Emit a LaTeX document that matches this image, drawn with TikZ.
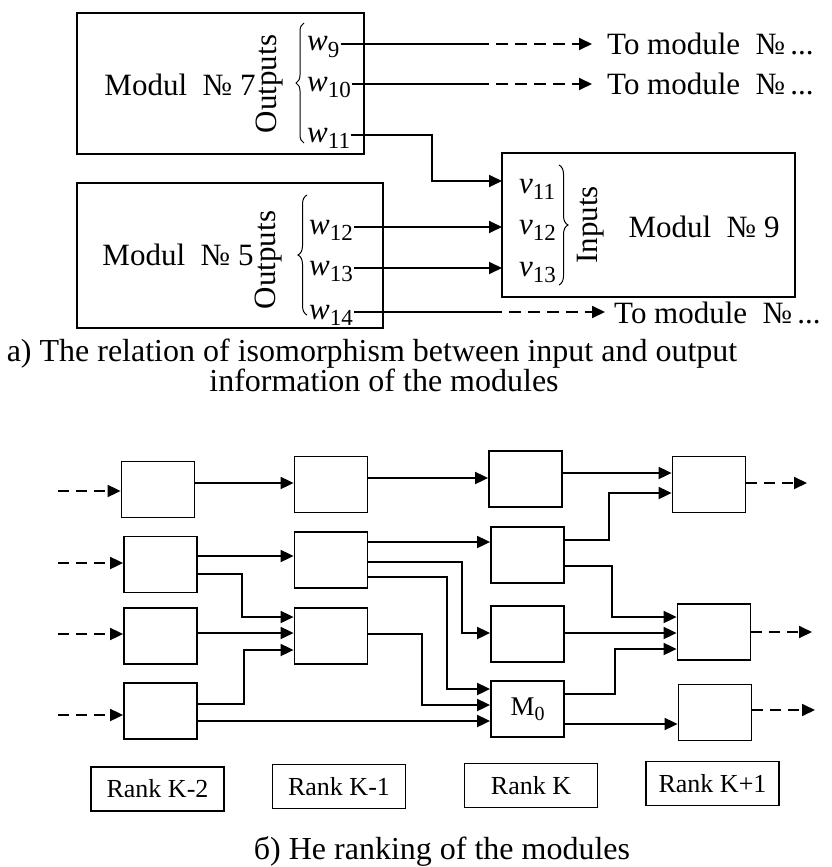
\documentclass[tikz,border=0pt]{standalone}
\usepackage{fontspec}
\setmainfont{Liberation Serif}
\usetikzlibrary{arrows.meta,decorations.pathreplacing}
\newcommand\fbig{\fontsize{31}{36}\selectfont}
\newcommand\fcap{\fontsize{32}{36}\selectfont}
\newcommand\frank{\fontsize{26}{30}\selectfont}
\newcommand\wl[2]{\textit{#1}\raisebox{-0.2em}{\fontsize{23}{23}\selectfont #2}}
\begin{document}
\begin{tikzpicture}[x=1pt,y=-1pt]
\tikzset{
 every node/.style={inner sep=0pt},
 lw/.style={line width=1.8pt},
 mbox/.style={draw, lw, inner sep=0pt},
 bbox/.style={draw, lw, inner sep=0pt, minimum width=73pt, minimum height=56pt},
 rbox/.style={draw, line width=1.5pt, minimum width=133pt, minimum height=44pt, font=\frank},
 txt/.style={font=\fbig, inner sep=0pt},
 wlab/.style={font=\fbig, inner sep=1pt, text height=14pt, text depth=0pt, anchor=west},
 conn/.style={lw, -{Triangle[length=13pt,width=12pt]}},
 plain/.style={lw},
 dconn/.style={conn, dash pattern=on 12pt off 7pt},
 brc/.style={decorate, decoration={brace, amplitude=#1}, line width=1pt},
}
\useasboundingbox (0,0) rectangle (831,867);

% ---------- part a ----------
\node[mbox, minimum width=287pt, minimum height=141pt] (m7) at (220.5,83.5) {};
\node[mbox, minimum width=306pt, minimum height=145pt] (m5) at (230,255.5) {};
\node[mbox, minimum width=293pt, minimum height=144pt] (m9) at (648.5,225) {};

\node[txt, anchor=base] (l7) at (180,95) {Modul\ \ № 7};
\node[txt, anchor=base] (l5) at (178,265) {Modul\ \ № 5};
\node[txt, anchor=base] (l9) at (704,237) {Modul\ \ № 9};

\node[txt, rotate=90] (out7) at (270,84) {Outputs};
\node[txt, rotate=90] (out5) at (269,260) {Outputs};
\node[txt, rotate=90] (in9) at (591,225) {Inputs};

\draw[brc=8pt] (304,143) -- (304,23);
\draw[brc=9pt] (307,315) -- (307,195);
\draw[brc=9pt] (559,165) -- (559,285);

\node[wlab] (w9) at (306,44) {\wl{w}{9}};
\node[wlab] (w10) at (306,84) {\wl{w}{10}};
\node[wlab] (w11) at (306,135) {\wl{w}{11}};
\node[wlab] (w12) at (308,227) {\wl{w}{12}};
\node[wlab] (w13) at (308,268) {\wl{w}{13}};
\node[wlab] (w14) at (308,312) {\wl{w}{14}};

\node[wlab] (v11) at (518,186) {\wl{v}{11}};
\node[wlab] (v12) at (518,227) {\wl{v}{12}};
\node[wlab] (v13) at (518,269) {\wl{v}{13}};

\node[txt, anchor=west] (to1) at (607,44) {To module\ \ №\,...};
\node[txt, anchor=west] (to2) at (607,84) {To module\ \ №\,...};
\node[txt, anchor=west] (to3) at (614,313) {To module\ \ №\,...};

\coordinate (s9) at (477,44);   \coordinate (e9) at (592,44);
\coordinate (s10) at (477,84);  \coordinate (e10) at (592,84);
\coordinate (s14) at (490,312); \coordinate (e14) at (605,312);
\coordinate (k11) at (432,135);
\coordinate (in1) at (502,181);
\coordinate (in2) at (502,227);
\coordinate (in3) at (502,268);

\draw[plain] (w9.east) -- (s9);  \draw[dconn] (s9) -- (e9);
\draw[plain] (w10.east) -- (s10); \draw[dconn] (s10) -- (e10);
\draw[conn] (w11.east) -- (k11) |- (in1);
\draw[conn] (w12.east) -- (in2);
\draw[conn] (w13.east) -- (in3);
\draw[plain] (w14.east) -- (s14); \draw[dconn] (s14) -- (e14);

\node[txt, anchor=base, font=\fcap] (capa1) at (372,361) {a) The relation of isomorphism between input and output};
\node[txt, anchor=base, font=\fcap] (capa2) at (384,391) {information of the modules};

% ---------- part b ----------
\node[bbox] (a1) at (158,489.5) {};
\node[bbox] (a2) at (160.5,564.5) {};
\node[bbox] (a3) at (160.5,636) {};
\node[bbox] (a4) at (160.5,711) {};
\node[bbox] (b1) at (331,484.5) {};
\node[bbox] (b2) at (331,560) {};
\node[bbox] (b3) at (331,636) {};
\node[bbox] (c1) at (525.5,479) {};
\node[bbox] (c2) at (527.5,555) {};
\node[bbox] (c3) at (527.5,634) {};
\node[bbox] (c4) at (527.5,709) {\fontsize{27}{30}\selectfont M\raisebox{-0.2em}{\fontsize{20}{20}\selectfont 0}};
\node[bbox] (d1) at (709,484.5) {};
\node[bbox] (d2) at (714,632) {};
\node[bbox] (d3) at (715,712.5) {};

% inputs
\coordinate (i1) at (58,491);
\coordinate (i2) at (58,563);
\coordinate (i3) at (58,634);
\coordinate (i4) at (58,715);
\draw[dconn, dash pattern=on 11pt off 7pt] (i1) -- (i1 -| a1.west);
\draw[dconn, dash pattern=on 11pt off 7pt] (i2) -- (i2 -| a2.west);
\draw[dconn, dash pattern=on 11pt off 7pt] (i3) -- (i3 -| a3.west);
\draw[dconn, dash pattern=on 11pt off 7pt] (i4) -- (i4 -| a4.west);

% rank k-2 -> k-1
\draw[conn] (a1.east |- 0,483) -- (b1.west |- 0,483);
\draw[conn] (a2.east |- 0,556) -- (b2.west |- 0,556);
\draw[conn] (a2.east |- 0,574) -| (242,617) -- (b3.west |- 0,617);
\draw[conn] (a3.east |- 0,633) -- (b3.west |- 0,633);
\draw[conn] (a4.east |- 0,704) -| (244,650) -- (b3.west |- 0,650);
\draw[conn] (a4.east |- 0,721) -- (c4.west |- 0,721);

% rank k-1 -> k
\draw[conn] (b1.east |- 0,478) -- (c1.west |- 0,478);
\draw[conn] (b2.east |- 0,542) -- (c2.west |- 0,542);
\draw[conn] (b2.east |- 0,562) -| (462,633) -- (c3.west |- 0,633);
\draw[conn] (b2.east |- 0,577) -| (447,689) -- (c4.west |- 0,689);
\draw[conn] (b3.east |- 0,634) -| (422,705) -- (c4.west |- 0,705);

% rank k -> k+1
\draw[conn] (c1.east |- 0,473) -- (d1.west |- 0,473);
\draw[conn] (c2.east |- 0,540) -| (609,493) -- (d1.west |- 0,493);
\draw[conn] (c2.east |- 0,566) -| (612,617) -- (d2.west |- 0,617);
\draw[conn] (c3.east |- 0,633) -- (d2.west |- 0,633);
\draw[conn] (c4.east |- 0,694) -| (615,649) -- (d2.west |- 0,649);
\draw[conn] (c4.east |- 0,724) -- (d3.west |- 0,724);

% outputs
\coordinate (o1) at (807,483);
\coordinate (o2) at (812,632);
\coordinate (o3) at (815,710);
\draw[dconn, dash pattern=on 11pt off 7pt] (d1.east |- o1) -- (o1);
\draw[dconn, dash pattern=on 11pt off 7pt] (d2.east |- o2) -- (o2);
\draw[dconn, dash pattern=on 11pt off 7pt] (d3.east |- o3) -- (o3);

% rank labels
\node[rbox] (r1) at (157.5,789) {Rank K-2};
\node[rbox] (r2) at (339,786.5) {Rank K-1};
\node[rbox] (r3) at (531,785.5) {Rank K};
\node[rbox] (r4) at (712.5,783.5) {Rank K+1};

\node[txt, anchor=base, font=\fcap] (capb) at (442,859) {б) He ranking of the modules};
\end{tikzpicture}
\end{document}
